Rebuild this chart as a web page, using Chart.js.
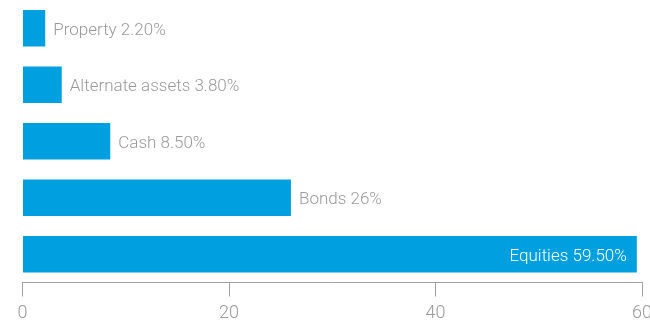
<!DOCTYPE html>
<html>
<head>
<meta charset="utf-8">
<style>
  html, body { margin: 0; padding: 0; background: #fff; }
  #wrap { width: 650px; height: 320px; }
</style>
<script src="https://cdn.jsdelivr.net/npm/chart.js@4/dist/chart.umd.min.js"></script>
</head>
<body>
<div id="wrap"><canvas id="allocChart"></canvas></div>
<script>
const categories = ['Property', 'Alternate assets', 'Cash', 'Bonds', 'Equities'];
const shares = [2.2, 3.8, 8.5, 26, 59.5];
const shareLabels = ['2.20%', '3.80%', '8.50%', '26%', '59.50%'];
const xTicks = [0, 20, 40, 60];

const barBlue = '#009fdf';
const greyText = '#999999';
const labelFont = 'Roboto, "Liberation Sans", sans-serif';

// writes "Name value" next to each bar, or inside it when it is the long one
const barLabels = {
  id: 'barLabels',
  afterDatasetsDraw(chart) {
    const ctx = chart.ctx;
    const meta = chart.getDatasetMeta(0);
    ctx.save();
    ctx.font = '300 17px ' + labelFont;
    ctx.textBaseline = 'middle';
    meta.data.forEach((bar, i) => {
      const text = categories[i] + ' ' + shareLabels[i];
      if (shares[i] > 40) {
        ctx.fillStyle = '#ffffff';
        ctx.textAlign = 'right';
        ctx.fillText(text, bar.x - 10, bar.y + 2);
      } else {
        ctx.fillStyle = greyText;
        ctx.textAlign = 'left';
        ctx.fillText(text, bar.x + 8, bar.y + 2);
      }
    });
    ctx.restore();
  }
};

new Chart(document.getElementById('allocChart'), {
  type: 'bar',
  data: {
    labels: categories,
    datasets: [{
      data: shares,
      backgroundColor: barBlue,
      barPercentage: 0.65,
      categoryPercentage: 1
    }]
  },
  options: {
    indexAxis: 'y',
    responsive: true,
    maintainAspectRatio: false,
    animation: false,
    layout: { padding: { left: 22.5, right: 8, top: 0, bottom: 0 } },
    plugins: {
      legend: { display: false },
      tooltip: { enabled: false }
    },
    scales: {
      y: { display: false },
      x: {
        min: 0,
        max: 60,
        afterBuildTicks(axis) {
          axis.ticks = xTicks.map(v => ({ value: v }));
        },
        // fixed axis band; the end labels are allowed to run off the edge
        afterFit(axis) {
          axis.height = 37.5;
          axis.paddingLeft = 0;
          axis.paddingRight = 0;
        },
        border: { display: true, color: '#a0a0a0', width: 1 },
        grid: {
          drawOnChartArea: false,
          drawTicks: true,
          tickLength: 14,
          color: '#a0a0a0'
        },
        ticks: {
          color: greyText,
          padding: 10,
          maxRotation: 0,
          font: { family: labelFont, size: 18, weight: '300', lineHeight: 0.78 }
        }
      }
    }
  },
  plugins: [barLabels]
});
</script>
</body>
</html>
